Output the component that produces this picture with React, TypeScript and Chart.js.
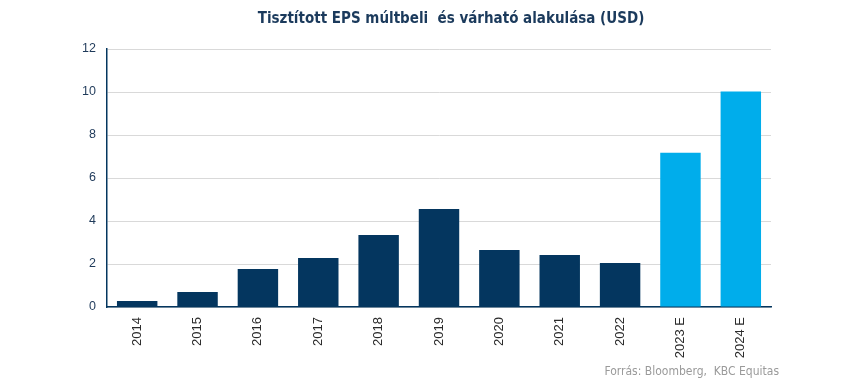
import React, { useEffect, useRef } from "react";
import { Chart, registerables } from "chart.js";

Chart.register(...registerables);

const categories = ["2014", "2015", "2016", "2017", "2018", "2019", "2020", "2021", "2022", "2023 E", "2024 E"];
const epsValues = [0.28, 0.7, 1.77, 2.28, 3.35, 4.56, 2.65, 2.42, 2.05, 7.18, 10.02];
const isEstimate = [false, false, false, false, false, false, false, false, false, true, true];
const yTicks = [0, 2, 4, 6, 8, 10, 12];

const titleText = "Tisztított EPS múltbeli  és várható alakulása (USD)";
const sourceText = "Forrás: Bloomberg,  KBC Equitas";

const NAVY = "#04365f";
const LIGHT = "#00adeb";

export default function App() {
  const ref = useRef<HTMLCanvasElement>(null);
  useEffect(() => {
    document.body.style.margin = "0";
    const canvas = ref.current!;
    const textPlugin = {
      id: "texts",
      afterDraw(chart: any) {
        const ctx = chart.ctx;
        ctx.save();
        ctx.font = 'bold 15px "DejaVu Sans Condensed", "Liberation Sans Narrow", "DejaVu Sans", sans-serif';
        ctx.fillStyle = "#1b3a5c";
        ctx.textAlign = "center";
        ctx.textBaseline = "middle";
        ctx.fillText(titleText, 451, 19);
        ctx.font = '12px "DejaVu Sans Condensed", "Liberation Sans Narrow", "DejaVu Sans", sans-serif';
        ctx.fillStyle = "#9a9a9a";
        ctx.textAlign = "right";
        ctx.fillText(sourceText, 779, 372);
        ctx.restore();
      },
    };
    const chart = new Chart(canvas, {
      type: "bar",
      data: {
        labels: categories,
        datasets: [
          {
            data: epsValues,
            backgroundColor: isEstimate.map((e) => (e ? LIGHT : NAVY)),
            categoryPercentage: 1,
            barPercentage: 0.67,
          },
        ],
      },
      options: {
        animation: false,
        responsive: false,
        maintainAspectRatio: false,
        layout: { padding: { top: 49, right: 79, left: 0, bottom: 0 } },
        plugins: { legend: { display: false }, tooltip: { enabled: false }, title: { display: false } },
        scales: {
          x: {
            grid: { display: false, drawTicks: false },
            border: { color: NAVY, width: 1.5 },
            ticks: {
              maxRotation: 90,
              minRotation: 90,
              color: "#2a2a2a",
              padding: 10,
              font: { family: '"Liberation Sans", Arial, sans-serif', size: 13 },
            },
            afterFit(scale: any) {
              scale.height = 78;
            },
          },
          y: {
            min: 0,
            max: 12,
            afterBuildTicks(scale: any) {
              scale.ticks = yTicks.map((v) => ({ value: v }));
            },
            grid: { color: "#d9d9d9", drawTicks: false, lineWidth: 1 },
            border: { color: NAVY, width: 1.5 },
            ticks: {
              color: "#1f3a5a",
              padding: 11,
              font: { family: '"Liberation Sans", Arial, sans-serif', size: 12.5 },
            },
            afterFit(scale: any) {
              scale.width = 107;
            },
          },
        },
      },
      plugins: [textPlugin],
    });
    return () => chart.destroy();
  }, []);
  return <canvas ref={ref} width={850} height={385} style={{ display: "block" }} />;
}
